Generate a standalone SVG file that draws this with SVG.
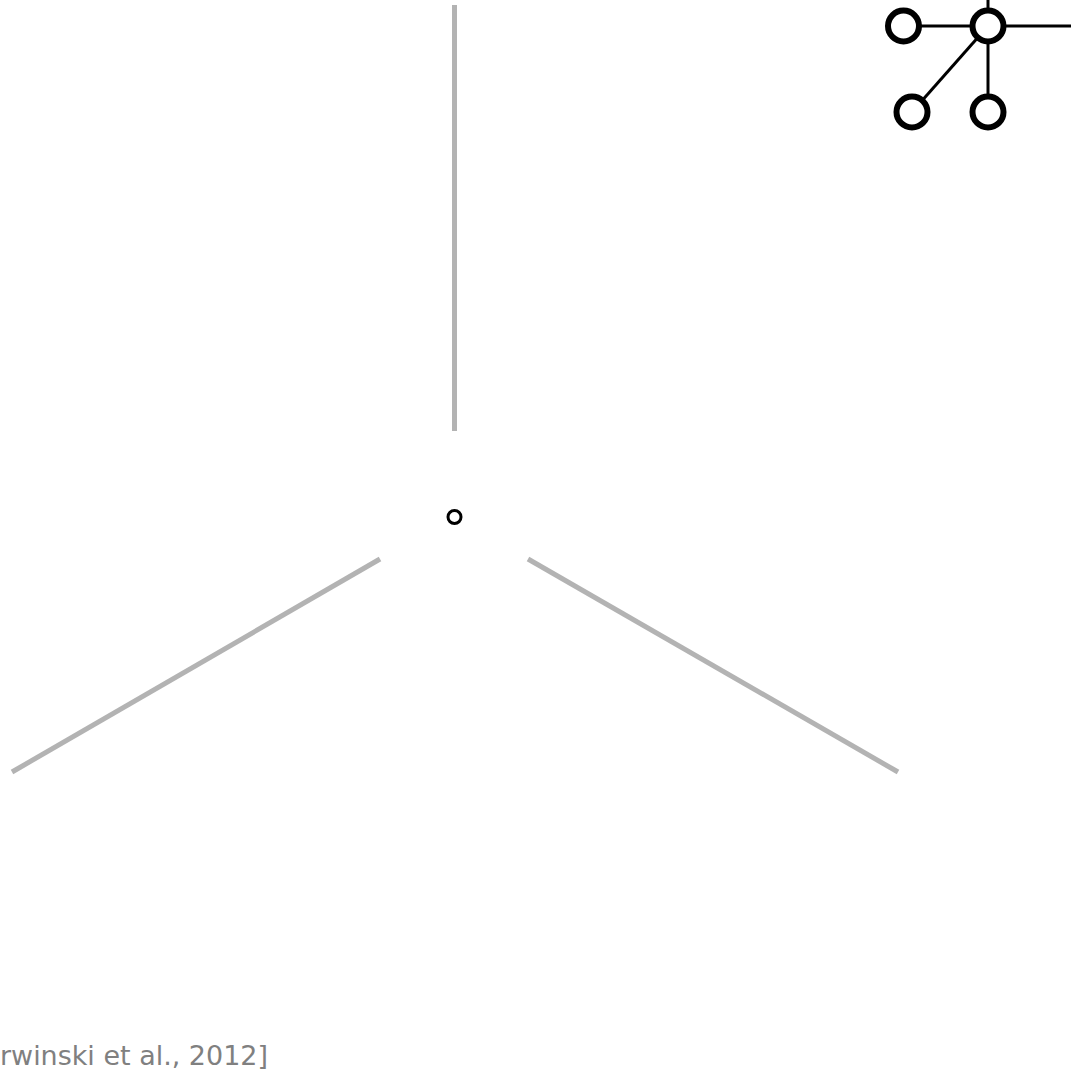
<svg xmlns="http://www.w3.org/2000/svg" width="1071" height="1070" viewBox="0 0 1071 1070">
<style>
.g{stroke:#b3b3b3;stroke-width:5;fill:none}
.e{stroke:#000;stroke-width:3;fill:none}
.n{stroke:#000;stroke-width:6;fill:#fff}
.t{font-family:"DejaVu Sans",sans-serif;font-size:26px;fill:#808080}
</style>
<rect width="1071" height="1070" fill="#fff"/>
<g id="connectors">
<line class="g" x1="454.5" y1="5" x2="454.5" y2="431"/>
<line class="g" x1="380" y1="559" x2="12" y2="772"/>
<line class="g" x1="528" y1="559" x2="898" y2="772"/>
<line class="e" x1="903" y1="26" x2="1071" y2="26"/>
<line class="e" x1="988" y1="0" x2="988" y2="112"/>
<line class="e" x1="988" y1="26" x2="912" y2="112"/>
</g>
<g id="center"><circle cx="454.5" cy="517" r="6.5" stroke="#000" stroke-width="3" fill="#fff"/></g>
<g id="n1"><circle class="n" cx="903.5" cy="26" r="15.5"/></g>
<g id="n2"><circle class="n" cx="988" cy="26" r="15.5"/></g>
<g id="n3"><circle class="n" cx="912" cy="112" r="15.5"/></g>
<g id="n4"><circle class="n" cx="988" cy="112" r="15.5"/></g>
<text class="t" x="0" y="1065" textLength="268" lengthAdjust="spacingAndGlyphs">rwinski et al., 2012]</text>
</svg>
